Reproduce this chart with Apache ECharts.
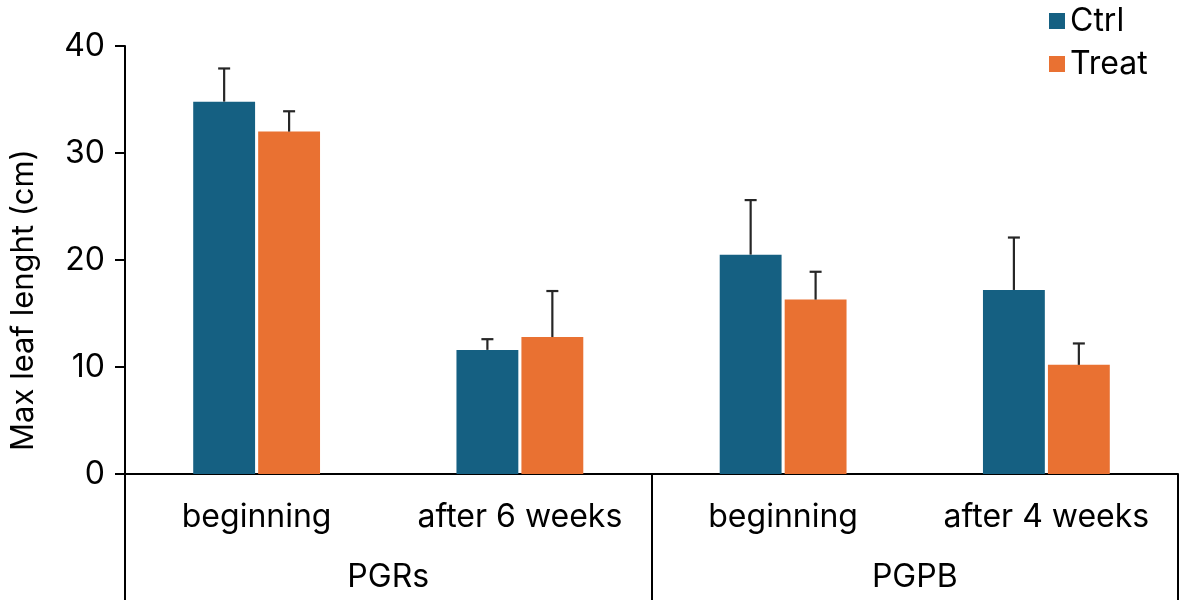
<!DOCTYPE html>
<html>
<head>
<meta charset="utf-8">
<script src="https://cdn.jsdelivr.net/npm/echarts@6/dist/echarts.min.js"></script>
<style>
  html, body { margin: 0; padding: 0; background: #fff; }
  #chart { width: 1181px; height: 603px; }
</style>
</head>
<body>
<div id="chart"></div>
<script>
// 数据
const categories = ['beginning', 'after 6 weeks', 'beginning', 'after 4 weeks']
const groups = ['PGRs', 'PGPB']
const ctrlValues = [34.8, 11.6, 20.5, 17.2]
const ctrlErrors = [3.1, 1.0, 5.1, 4.9]
const treatValues = [32.0, 12.8, 16.3, 10.2]
const treatErrors = [1.9, 4.3, 2.6, 2.0]
const yTicks = [0, 10, 20, 30, 40]

const font = 'Inter'
const ctrlColor = '#156082'
const treatColor = '#E97132'
const barWidthRatio = 0.235
const barGapRatio = 0.05

// 误差线 (只向上)
function errorBar(side) {
  return function (params, api) {
    const idx = api.value(0)
    const top = api.coord([idx, api.value(1) + api.value(2)])
    const base = api.coord([idx, api.value(1)])
    const band = api.size([1, 0])[0]
    const w = band * barWidthRatio
    const dx = side * (w + w * barGapRatio) / 2
    const x = base[0] + dx
    const cap = 6
    return {
      type: 'group',
      children: [
        { type: 'line', shape: { x1: x, y1: base[1], x2: x, y2: top[1] }, style: { stroke: '#262626', lineWidth: 2.2 } },
        { type: 'line', shape: { x1: x - cap, y1: top[1], x2: x + cap, y2: top[1] }, style: { stroke: '#262626', lineWidth: 2.2 } }
      ]
    }
  }
}

const myChart = echarts.init(document.getElementById('chart'))
const option = {
  animation: false,
  textStyle: { fontFamily: font },
  legend: {
    orient: 'vertical',
    left: 1044,
    top: 0,
    itemWidth: 16,
    itemHeight: 16,
    itemGap: 11,
    icon: 'rect',
    textStyle: { fontFamily: font, fontSize: 32, color: '#000', padding: [0, 0, 0, 0] },
    data: ['Ctrl', 'Treat']
  },
  grid: { left: 123, right: 3, top: 46, bottom: 129, containLabel: false },
  xAxis: [{
    type: 'category',
    data: categories,
    axisLine: { lineStyle: { color: '#000', width: 2 } },
    axisTick: { show: false },
    axisLabel: { color: '#000', fontSize: 32, margin: 27, fontFamily: font, interval: 0 }
  }, {
    type: 'category',
    data: groups,
    position: 'bottom',
    axisLine: { show: false },
    axisTick: { show: true, length: 126, lineStyle: { color: '#000', width: 2 } },
    axisLabel: { color: '#000', fontSize: 32, margin: 87, fontFamily: font }
  }],
  yAxis: {
    type: 'value',
    min: 0,
    max: 40,
    interval: 10,
    name: 'Max leaf lenght (cm)',
    nameLocation: 'middle',
    nameGap: 86,
    nameTextStyle: { color: '#000', fontSize: 31, fontFamily: font, padding: [0, 80, 0, 0] },
    axisLine: { show: true, lineStyle: { color: '#000', width: 2 } },
    axisTick: { show: true, length: 10, lineStyle: { color: '#000', width: 2 } },
    axisLabel: {
      color: '#000', fontSize: 32, margin: 20, fontFamily: font,
      formatter: function (v) { return yTicks.indexOf(v) >= 0 ? String(v) : '' }
    },
    splitLine: { show: false }
  },
  series: [{
    name: 'Ctrl',
    type: 'bar',
    data: ctrlValues,
    barWidth: (barWidthRatio * 100) + '%',
    barGap: (barGapRatio * 100) + '%',
    itemStyle: { color: ctrlColor }
  }, {
    name: 'Treat',
    type: 'bar',
    data: treatValues,
    barWidth: (barWidthRatio * 100) + '%',
    barGap: (barGapRatio * 100) + '%',
    itemStyle: { color: treatColor }
  }, {
    type: 'custom',
    renderItem: errorBar(-1),
    data: ctrlValues.map((v, i) => [i, v, ctrlErrors[i]]),
    z: 5,
    silent: true
  }, {
    type: 'custom',
    renderItem: errorBar(1),
    data: treatValues.map((v, i) => [i, v, treatErrors[i]]),
    z: 5,
    silent: true
  }]
}
myChart.setOption(option)
</script>
</body>
</html>
